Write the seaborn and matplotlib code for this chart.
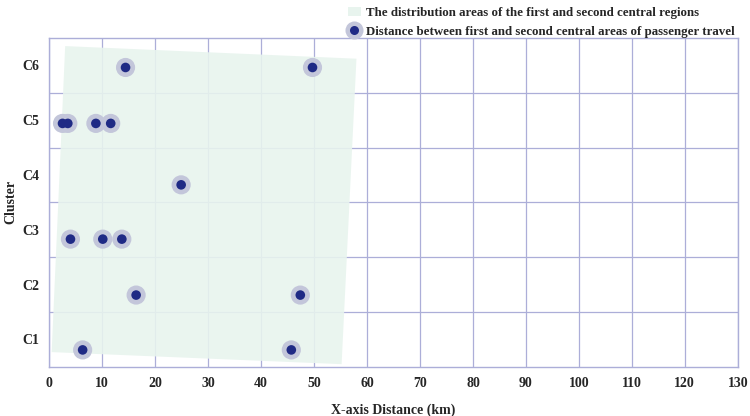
import matplotlib
matplotlib.use("Agg")
import matplotlib.pyplot as plt
from matplotlib.lines import Line2D
from matplotlib.patches import Patch
import pandas as pd
import seaborn as sns

# data
clusters = ["C1", "C2", "C3", "C4", "C5", "C6"]
cluster_level = [0.31, 1.31, 2.33, 3.32, 4.44, 5.46]
distances = {
    "C1": [6.3, 45.7],
    "C2": [16.4, 47.4],
    "C3": [4.0, 10.1, 13.7],
    "C4": [24.9],
    "C5": [2.5, 3.5, 8.8, 11.6],
    "C6": [14.4, 49.7],
}
area_x = [3.0, 58.0, 55.2, 0.45]
area_y = [5.85, 5.62, 0.05, 0.27]

rows = []
for c, lvl in zip(clusters, cluster_level):
    for d in distances[c]:
        rows.append({"cluster": c, "distance": d, "level": lvl})
df = pd.DataFrame(rows)

sns.set_style("white")
plt.rcParams["font.family"] = ["Liberation Serif", "DejaVu Serif"]
plt.rcParams["font.weight"] = "bold"

grid_c = "#acaed8"
dot_c = "#1f2a85"
halo_c = "#c3c6da"
area_c = "#e8f4ee"

fig = plt.figure(figsize=(7.5, 4.16), dpi=100)
ax = fig.add_axes([0.0657, 0.118, 0.918, 0.791])

ax.fill(area_x, area_y, color=area_c, alpha=0.9, lw=0, zorder=1)

sns.scatterplot(data=df, x="distance", y="level", ax=ax, s=190, color=halo_c,
                edgecolor="none", zorder=3, legend=False)
sns.scatterplot(data=df, x="distance", y="level", ax=ax, s=48, color=dot_c,
                edgecolor="none", zorder=4, legend=False)

ax.set_xlim(0, 130)
ax.set_ylim(0, 6)
ax.set_xticks(range(0, 131, 10))
ax.set_yticks([i + 0.5 for i in range(6)])
ax.set_yticklabels(clusters)
ax.set_yticks(range(1, 6), minor=True)
ax.grid(False)
ax.grid(True, which="major", axis="x", color=grid_c, lw=0.9, zorder=0)
ax.grid(True, which="minor", axis="y", color=grid_c, lw=0.9, zorder=0)
ax.set_axisbelow(True)
ax.tick_params(axis="both", which="both", length=0, labelsize=10, pad=7)
for lab in ax.get_xticklabels() + ax.get_yticklabels():
    lab.set_fontweight("bold")
for sp in ax.spines.values():
    sp.set_color(grid_c)
    sp.set_linewidth(1.0)

ax.set_xlabel("X-axis Distance (km)", fontsize=10, fontweight="bold", labelpad=10)
ax.set_ylabel("Cluster", fontsize=10, fontweight="bold", labelpad=4)

handles = [
    Patch(facecolor=area_c, edgecolor="none"),
    (Line2D([], [], marker="o", ls="none", ms=13, color=halo_c, mec="none"),
     Line2D([], [], marker="o", ls="none", ms=6.5, color=dot_c, mec="none")),
]
labels = ["The distribution areas of the first and second central regions",
          "Distance between first and second central areas of passenger travel"]
leg = ax.legend(handles, labels, loc="lower right", bbox_to_anchor=(0.997, 0.996),
                frameon=False, fontsize=9.3, handlelength=1.0, handletextpad=0.4,
                labelspacing=0.5, borderaxespad=0.0, borderpad=0.1)
for t in leg.get_texts():
    t.set_fontweight("bold")

fig.savefig("out.png", dpi=100)
